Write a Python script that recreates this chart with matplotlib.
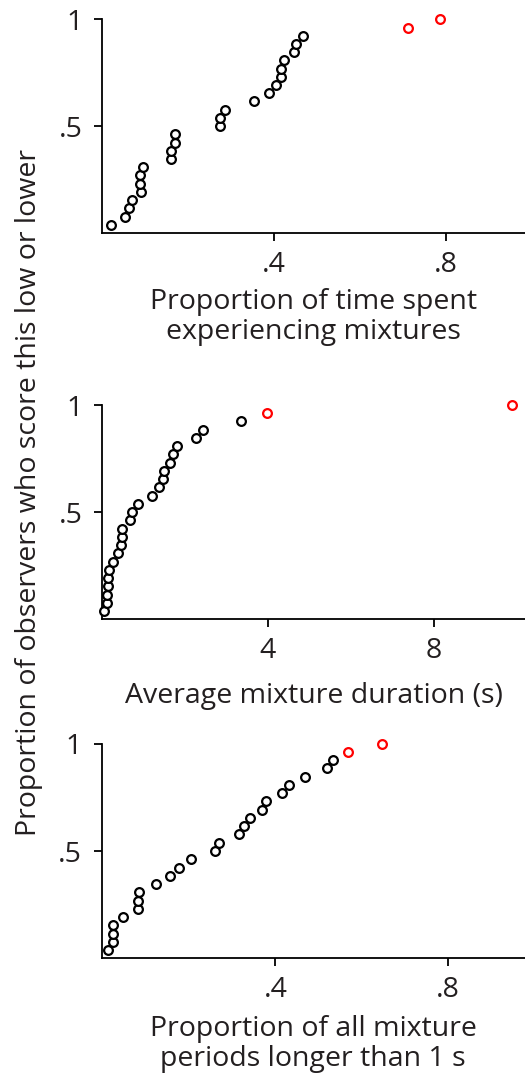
import matplotlib
matplotlib.use("Agg")
import matplotlib.pyplot as plt
import numpy as np

plt.rcParams['font.family'] = ['Open Sans', 'DejaVu Sans']

# Panel 1: proportion of time spent experiencing mixtures (sorted)
time_prop = [0.020, 0.053, 0.062, 0.069, 0.090, 0.089, 0.089, 0.095, 0.160, 0.160,
             0.170, 0.170, 0.274, 0.275, 0.285, 0.354, 0.387, 0.404, 0.415, 0.416,
             0.424, 0.447, 0.450, 0.467, 0.712, 0.785]
# Panel 2: average mixture duration (s)
mix_dur = [0.05, 0.12, 0.13, 0.15, 0.15, 0.17, 0.27, 0.38, 0.45, 0.48,
           0.48, 0.68, 0.72, 0.86, 1.20, 1.38, 1.47, 1.50, 1.65, 1.71,
           1.82, 2.27, 2.44, 3.34, 3.99, 9.89]
# Panel 3: proportion of mixture periods longer than 1 s
long_prop = [0.012, 0.022, 0.023, 0.023, 0.045, 0.080, 0.081, 0.082, 0.123, 0.154,
             0.175, 0.205, 0.259, 0.269, 0.315, 0.328, 0.342, 0.368, 0.379, 0.415,
             0.431, 0.469, 0.521, 0.533, 0.569, 0.648]
n_outliers = 2  # last two observers highlighted in red

xticks_list = [[0.4, 0.8], [4, 8], [0.4, 0.8]]
xticklabels_list = [['.4', '.8'], ['4', '8'], ['.4', '.8']]
yticks = [0.5, 1.0]
yticklabels = ['.5', '1']
xlabels = ['Proportion of time spent\nexperiencing mixtures',
           'Average mixture duration (s)',
           'Proportion of all mixture\nperiods longer than 1 s']
xlims = [(0, 0.983), (0, 10.2), (-0.004, 0.98)]
ylabel = 'Proportion of observers who score this low or lower'

W, H = 525, 1079
fig = plt.figure(figsize=(W / 100, H / 100), dpi=100)
txt_color = '#231f20'
fs = 20.5

# axes positions in pixels: (left, top_of_y1, bottom)
boxes = [(102, 19.3, 233), (102, 405, 619.3), (101.5, 743.7, 958.3)]
labelpads = [6.5, 12, 7.5]
datasets = [time_prop, mix_dur, long_prop]

for (left, top, bottom), data, xt, xtl, xl, xlim, lp in zip(
        boxes, datasets, xticks_list, xticklabels_list, xlabels, xlims, labelpads):
    ax = fig.add_axes([left / W, 1 - bottom / H, (W - left) / W, (bottom - top) / H])
    x = np.array(data)
    n = len(x)
    y = np.arange(1, n + 1) / n
    ax.plot(x[:n - n_outliers], y[:n - n_outliers], 'o', mfc='white', mec='black',
            ms=6.3, mew=1.6, clip_on=False, zorder=3)
    ax.plot(x[n - n_outliers:], y[n - n_outliers:], 'o', mfc='white', mec='#ff0000',
            ms=6.3, mew=1.6, clip_on=False, zorder=3)
    ax.set_xlim(*xlim)
    ax.set_ylim(0, 1)
    ax.set_xticks(xt)
    ax.set_xticklabels(xtl)
    ax.set_yticks(yticks)
    ax.set_yticklabels(yticklabels)
    for s in ['top', 'right']:
        ax.spines[s].set_visible(False)
    for s in ['left', 'bottom']:
        ax.spines[s].set_linewidth(1.3)
        ax.spines[s].set_color('black')
    ax.tick_params(axis='x', pad=7)
    ax.tick_params(axis='y', pad=8)
    ax.tick_params(direction='out', length=6, width=1.3, labelsize=fs,
                   labelcolor=txt_color)
    ax.set_xlabel(xl, fontsize=fs, color=txt_color, labelpad=lp, linespacing=1.1)

fig.text(29 / W, 1 - 493 / H, ylabel, rotation=90, ha='center', va='center',
         fontsize=fs, color=txt_color)

fig.savefig('out.png', dpi=100)
